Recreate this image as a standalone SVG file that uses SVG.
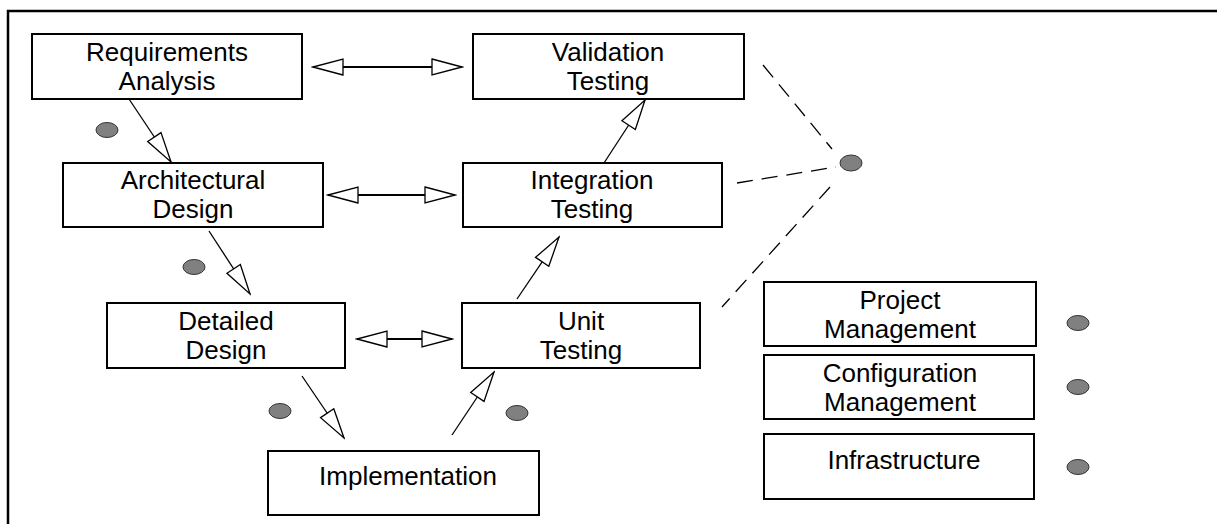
<svg xmlns="http://www.w3.org/2000/svg" width="1217" height="524" viewBox="0 0 1217 524">
  <style>
    .box { fill: #ffffff; stroke: #000000; stroke-width: 2; }
    .lbl { font-family: "Liberation Sans", Arial, sans-serif; font-size: 26px; fill: #000000; text-anchor: middle; }
    .dot { fill: #808080; stroke: #333333; stroke-width: 1; }
    .flow { fill: none; stroke: #000000; stroke-width: 1.3; marker-end: url(#open); }
    .link { fill: none; stroke: #000000; stroke-width: 2; marker-start: url(#open); marker-end: url(#open); }
    .dash { fill: none; stroke: #000000; stroke-width: 1.3; stroke-dasharray: 16 9; }
  </style>
  <defs>
    <!-- hollow triangular arrowhead -->
    <marker id="open" markerUnits="userSpaceOnUse" viewBox="-2 -10 34 20" refX="30" refY="0" markerWidth="34" markerHeight="20" orient="auto-start-reverse">
      <path d="M0,-8 L30,0 L0,8 Z" fill="#ffffff" stroke="#000000" stroke-width="1.3" stroke-linejoin="miter"/>
    </marker>
  </defs>

  <rect width="1217" height="524" fill="#ffffff"/>

  <!-- frame -->
  <path d="M8,524 V11 H1217" fill="none" stroke="#000000" stroke-width="2.5"/>

  <!-- connectors -->
  <g id="connectors">
    <line class="link" x1="313" y1="67" x2="462" y2="67"/>
    <line class="link" x1="328" y1="195" x2="455" y2="195"/>
    <line class="link" x1="357" y1="339" x2="452" y2="339"/>
    <line class="flow" x1="129" y1="99" x2="171" y2="162"/>
    <line class="flow" x1="209" y1="231" x2="250" y2="294"/>
    <line class="flow" x1="302" y1="376" x2="344" y2="438"/>
    <line class="flow" x1="452" y1="435" x2="494" y2="372"/>
    <line class="flow" x1="517" y1="299" x2="559" y2="237"/>
    <line class="flow" x1="604" y1="163" x2="645" y2="100"/>
    <line class="dash" x1="763" y1="65" x2="832" y2="149"/>
    <line class="dash" x1="737" y1="183" x2="836" y2="167"/>
    <line class="dash" x1="830" y1="187" x2="722" y2="307"/>
  </g>

  <!-- nodes -->
  <g id="requirements">
    <rect class="box" x="32" y="34" width="270" height="65"/>
    <text class="lbl" x="167" y="61">Requirements</text>
    <text class="lbl" x="167" y="90">Analysis</text>
  </g>
  <g id="validation">
    <rect class="box" x="473" y="34" width="271" height="65"/>
    <text class="lbl" x="608" y="61">Validation</text>
    <text class="lbl" x="608" y="90">Testing</text>
  </g>
  <g id="architectural">
    <rect class="box" x="63" y="163" width="260" height="64"/>
    <text class="lbl" x="193" y="189">Architectural</text>
    <text class="lbl" x="193" y="218">Design</text>
  </g>
  <g id="integration">
    <rect class="box" x="463" y="163" width="259" height="64"/>
    <text class="lbl" x="592" y="189">Integration</text>
    <text class="lbl" x="592" y="218">Testing</text>
  </g>
  <g id="detailed">
    <rect class="box" x="107" y="303" width="238" height="65"/>
    <text class="lbl" x="226" y="330">Detailed</text>
    <text class="lbl" x="226" y="359">Design</text>
  </g>
  <g id="unit">
    <rect class="box" x="462" y="303" width="238" height="65"/>
    <text class="lbl" x="581" y="330">Unit</text>
    <text class="lbl" x="581" y="359">Testing</text>
  </g>
  <g id="implementation">
    <rect class="box" x="268" y="451" width="271" height="64"/>
    <text class="lbl" x="408" y="485">Implementation</text>
  </g>
  <g id="project-management">
    <rect class="box" x="764" y="282" width="272" height="64"/>
    <text class="lbl" x="900" y="309">Project</text>
    <text class="lbl" x="900" y="338">Management</text>
  </g>
  <g id="configuration-management">
    <rect class="box" x="764" y="355" width="270" height="64"/>
    <text class="lbl" x="900" y="382">Configuration</text>
    <text class="lbl" x="900" y="411">Management</text>
  </g>
  <g id="infrastructure">
    <rect class="box" x="764" y="434" width="270" height="65"/>
    <text class="lbl" x="904" y="469">Infrastructure</text>
  </g>

  <!-- markers -->
  <g id="dots">
    <ellipse class="dot" cx="107" cy="130" rx="11" ry="7.5"/>
    <ellipse class="dot" cx="194" cy="267" rx="11" ry="7.5"/>
    <ellipse class="dot" cx="280" cy="411" rx="11" ry="7.5"/>
    <ellipse class="dot" cx="517" cy="413" rx="11" ry="7.5"/>
    <ellipse class="dot" cx="851" cy="163" rx="11" ry="8"/>
    <ellipse class="dot" cx="1078" cy="323" rx="11" ry="7.5"/>
    <ellipse class="dot" cx="1078" cy="387" rx="11" ry="7.5"/>
    <ellipse class="dot" cx="1078" cy="467" rx="11" ry="7.5"/>
  </g>
</svg>
